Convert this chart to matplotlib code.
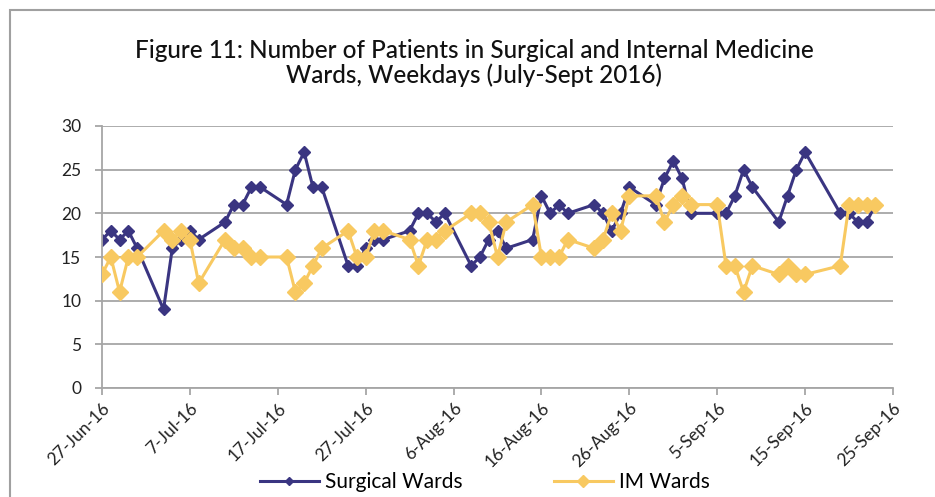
import matplotlib
matplotlib.use("Agg")
import matplotlib.pyplot as plt
import matplotlib.dates as mdates
from matplotlib.ticker import FuncFormatter
from matplotlib.patches import Rectangle
import datetime as dt

plt.rcParams['font.family'] = ['Lato', 'DejaVu Sans']

dates = [
    "2016-06-27", "2016-06-28", "2016-06-29", "2016-06-30", "2016-07-01",
    "2016-07-04", "2016-07-05", "2016-07-06", "2016-07-07", "2016-07-08",
    "2016-07-11", "2016-07-12", "2016-07-13", "2016-07-14", "2016-07-15",
    "2016-07-18", "2016-07-19", "2016-07-20", "2016-07-21", "2016-07-22",
    "2016-07-25", "2016-07-26", "2016-07-27", "2016-07-28", "2016-07-29",
    "2016-08-01", "2016-08-02", "2016-08-03", "2016-08-04", "2016-08-05",
    "2016-08-08", "2016-08-09", "2016-08-10", "2016-08-11", "2016-08-12",
    "2016-08-15", "2016-08-16", "2016-08-17", "2016-08-18", "2016-08-19",
    "2016-08-22", "2016-08-23", "2016-08-24", "2016-08-25", "2016-08-26",
    "2016-08-29", "2016-08-30", "2016-08-31", "2016-09-01", "2016-09-02",
    "2016-09-05", "2016-09-06", "2016-09-07", "2016-09-08", "2016-09-09",
    "2016-09-12", "2016-09-13", "2016-09-14", "2016-09-15",
    "2016-09-19", "2016-09-20", "2016-09-21", "2016-09-22", "2016-09-23",
]

surgical = [
    17, 18, 17, 18, 16,
    9, 16, 17, 18, 17,
    19, 21, 21, 23, 23,
    21, 25, 27, 23, 23,
    14, 14, 16, 17, 17,
    18, 20, 20, 19, 20,
    14, 15, 17, 18, 16,
    17, 22, 20, 21, 20,
    21, 20, 18, 20, 23,
    21, 24, 26, 24, 20,
    20, 20, 22, 25, 23,
    19, 22, 25, 27,
    20, 20, 19, 19, 21,
]

im_wards = [
    13, 15, 11, 15, 15,
    18, 17, 18, 17, 12,
    17, 16, 16, 15, 15,
    15, 11, 12, 14, 16,
    18, 15, 15, 18, 18,
    17, 14, 17, 17, 18,
    20, 20, 19, 15, 19,
    21, 15, 15, 15, 17,
    16, 17, 20, 18, 22,
    22, 19, 21, 22, 21,
    21, 14, 14, 11, 14,
    13, 14, 13, 13,
    14, 21, 21, 21, 21,
]

x_start = "2016-06-27"
x_end = "2016-09-25"
y_ticks = [0, 5, 10, 15, 20, 25, 30]

title = "Figure 11: Number of Patients in Surgical and Internal Medicine\nWards, Weekdays (July-Sept 2016)"

d = [dt.datetime.strptime(s, "%Y-%m-%d") for s in dates]
x0 = dt.datetime.strptime(x_start, "%Y-%m-%d")
x1 = dt.datetime.strptime(x_end, "%Y-%m-%d")

navy = "#3A3581"
gold = "#F8C961"
grid_c = "#A6A6A6"

fig = plt.figure(figsize=(9.35, 4.97), dpi=100)
ax = fig.add_axes([102/935, 1-388/497, (893-102)/935, (388-126)/497])

# frame around the chart
fig.patches.append(Rectangle((10/935, -0.1), 1.2, (1-10/497)+0.1, transform=fig.transFigure,
                             fill=False, edgecolor="#A0A0A0", linewidth=1.5))

ax.plot(d, surgical, color=navy, lw=2.2, marker='D', ms=6, mec=navy, mfc=navy,
        label="Surgical Wards", zorder=2)
ax.plot(d, im_wards, color=gold, lw=2.2, marker='D', ms=8.5, mec=gold, mfc=gold,
        label="IM Wards", zorder=3)

ax.set_xlim(x0, x1)
ax.set_ylim(0, 30)
ax.set_yticks(y_ticks)
ticks = [mdates.date2num(x0) + 10*i for i in range(10)]
ax.set_xticks(ticks)
ax.xaxis.set_major_formatter(FuncFormatter(
    lambda v, p: (lambda t: f"{t.day}-{t.strftime('%b-%y')}")(mdates.num2date(v))))

ax.grid(axis='y', color=grid_c, lw=1.3)
ax.set_axisbelow(True)
for s in ['top', 'right']:
    ax.spines[s].set_visible(False)
for s in ['left', 'bottom']:
    ax.spines[s].set_color(grid_c)
    ax.spines[s].set_linewidth(1.3)
ax.tick_params(axis='both', colors=grid_c, length=5, width=1.3, labelsize=12.5,
               labelcolor='#222222')
ax.tick_params(axis='y', pad=10)
for lab in ax.get_xticklabels():
    lab.set_rotation(45)
    lab.set_ha('right')
    lab.set_va('top')
    lab.set_rotation_mode('anchor')

fig.text(474/935, 1-63/497, title, ha='center', va='center', fontsize=17.5,
         fontweight='medium', color='#111111', linespacing=1.1)

h, l = ax.get_legend_handles_labels()
fig.legend(h, l, loc='center', bbox_to_anchor=(485/935, 1-482/497),
           ncol=2, frameon=False, fontsize=15, handlelength=2.8, columnspacing=4.4,
           handletextpad=0.3, borderaxespad=0, markerscale=0.75)

fig.savefig("out.png", dpi=100)
